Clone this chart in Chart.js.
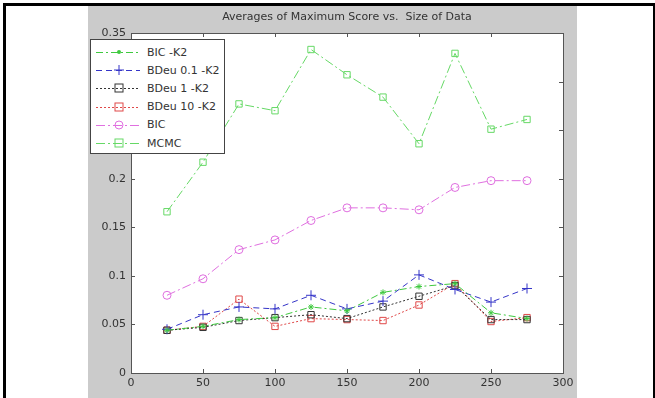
<!DOCTYPE html>
<html>
<head>
<meta charset="utf-8">
<script src="https://cdn.jsdelivr.net/npm/chart.js@4"></script>
<style>
  body { margin: 0; background: #fff; }
  #wrap { position: relative; width: 655px; height: 398px; overflow: hidden; }
  #frame { position: absolute; left: 3px; top: 3px; width: 647px; height: 400px;
           border-top: 3px solid #000; border-left: 3px solid #000; border-right: 3px solid #000; }
  #gray { position: absolute; left: 88px; top: 6px; width: 489px; height: 392px; background: #cbcbcb; }
  #myChart { position: absolute; left: 0; top: 0; }
  #legend { position: absolute; left: 90px; top: 39px; width: 135px; height: 115px;
            background: #fff; border: 1px solid #444; box-sizing: border-box;
            font-family: "DejaVu Sans", sans-serif; font-size: 11px; color: #333; padding-top: 3px; }
  .row { height: 18.2px; display: flex; align-items: center; }
  .row svg { margin-left: 3px; margin-right: 5px; }
</style>
</head>
<body>
<div id="wrap">
  <div id="frame"></div>
  <div id="gray"></div>
  <canvas id="myChart" width="655" height="398"></canvas>
  <div id="legend"></div>
</div>
<script>
// data size (x) and average maximum score per method
let xValues = [25, 50, 75, 100, 125, 150, 175, 200, 225, 250, 275]
let bicK2   = [0.044, 0.048, 0.055, 0.057, 0.068, 0.064, 0.083, 0.089, 0.092, 0.062, 0.056]
let bdeu01  = [0.045, 0.060, 0.068, 0.066, 0.080, 0.066, 0.074, 0.101, 0.086, 0.073, 0.087]
let bdeu1   = [0.044, 0.047, 0.054, 0.057, 0.060, 0.056, 0.068, 0.079, 0.090, 0.055, 0.055]
let bdeu10  = [0.044, 0.048, 0.076, 0.048, 0.056, 0.055, 0.054, 0.070, 0.092, 0.053, 0.057]
let bic     = [0.080, 0.097, 0.127, 0.137, 0.157, 0.170, 0.170, 0.168, 0.191, 0.198, 0.198]
let mcmc    = [0.166, 0.217, 0.277, 0.270, 0.333, 0.307, 0.284, 0.236, 0.329, 0.251, 0.261]

let seriesNames = ['BIC -K2', 'BDeu 0.1 -K2', 'BDeu 1 -K2', 'BDeu 10 -K2', 'BIC', 'MCMC']
let xTicks = [0, 50, 100, 150, 200, 250, 300]
let yTicks = ['0', '0.05', '0.1', '0.15', '0.2', '0.25', '0.3', '0.35']
let chartTitle = 'Averages of Maximum Score vs.  Size of Data'

let styles = [
  {color: '#3fc93f', dash: [7, 3, 2, 3], marker: 'star', r: 3},
  {color: '#3535c8', dash: [6, 4], marker: 'cross', r: 5},
  {color: '#333333', dash: [2, 2], marker: 'rect', r: 4.5},
  {color: '#e04848', dash: [2, 2], marker: 'rect', r: 4.5},
  {color: '#e070e0', dash: [9, 3, 2, 3], marker: 'circle', r: 4},
  {color: '#66d966', dash: [9, 3, 2, 3], marker: 'rect', r: 4.5}
]
let allSeries = [bicK2, bdeu01, bdeu1, bdeu10, bic, mcmc]

let datasets = allSeries.map(function(arr, i){
  let s = styles[i]
  return {
    label: seriesNames[i],
    data: xValues.map(function(x, j){ return {x: x, y: arr[j]} }),
    borderColor: s.color,
    backgroundColor: s.marker == 'star' ? s.color : 'rgba(0,0,0,0)',
    borderWidth: 1,
    borderDash: s.dash,
    pointStyle: s.marker,
    pointRadius: s.r,
    pointBorderWidth: 1,
    pointBorderColor: s.color,
    pointBackgroundColor: s.marker == 'star' ? s.color : 'rgba(0,0,0,0)',
    tension: 0
  }
})

// white plot box, dark border, matlab style inside ticks
let boxPlugin = {
  id: 'box',
  beforeDraw: function(chart){
    let a = chart.chartArea, ctx = chart.ctx
    ctx.save()
    ctx.fillStyle = '#fff'
    ctx.fillRect(a.left, a.top, a.right - a.left, a.bottom - a.top)
    ctx.restore()
  },
  afterDraw: function(chart){
    let a = chart.chartArea, ctx = chart.ctx
    let xs = chart.scales.x, ys = chart.scales.y
    ctx.save()
    ctx.strokeStyle = '#555'
    ctx.lineWidth = 1
    ctx.strokeRect(a.left + 0.5, a.top + 0.5, a.right - a.left, a.bottom - a.top)
    ctx.beginPath()
    xs.ticks.forEach(function(t){
      let px = Math.round(xs.getPixelForValue(t.value)) + 0.5
      ctx.moveTo(px, a.bottom); ctx.lineTo(px, a.bottom - 4)
      ctx.moveTo(px, a.top); ctx.lineTo(px, a.top + 4)
    })
    ys.ticks.forEach(function(t){
      let py = Math.round(ys.getPixelForValue(t.value)) + 0.5
      ctx.moveTo(a.left, py); ctx.lineTo(a.left + 4, py)
      ctx.moveTo(a.right, py); ctx.lineTo(a.right - 4, py)
    })
    ctx.stroke()
    ctx.restore()
  }
}

Chart.defaults.font.family = '"DejaVu Sans", sans-serif'
Chart.defaults.color = '#333'

let cur_chart = new Chart(document.getElementById('myChart'), {
  type: 'line',
  data: {datasets: datasets},
  plugins: [boxPlugin],
  options: {
    responsive: false,
    animation: false,
    devicePixelRatio: 1,
    layout: {padding: {left: 0, right: 92, top: 0, bottom: 0}},
    plugins: {
      legend: {display: false},
      tooltip: {enabled: false},
      title: {
        display: true,
        text: chartTitle,
        fullSize: false,
        font: {size: 11, weight: 'normal'},
        color: '#333',
        padding: {top: 11, bottom: 8.8}
      }
    },
    scales: {
      x: {
        type: 'linear',
        min: 0, max: 300,
        afterBuildTicks: function(s){ s.ticks = xTicks.map(function(v){ return {value: v} }) },
        ticks: {font: {size: 11}, padding: 4, maxRotation: 0, callback: function(v){ return String(v) }},
        grid: {display: false, drawTicks: false},
        border: {display: false},
        afterFit: function(s){ s.height = 25 }
      },
      y: {
        min: 0, max: 0.35,
        afterBuildTicks: function(s){ s.ticks = yTicks.map(function(v){ return {value: parseFloat(v)} }) },
        ticks: {font: {size: 11}, padding: 5, callback: function(v, i){ return yTicks[i] }},
        grid: {display: false, drawTicks: false},
        border: {display: false},
        afterFit: function(s){ s.width = 131 }
      }
    }
  }
})

// html legend drawn from the same series
let legend = document.getElementById('legend')
seriesNames.forEach(function(name, i){
  let s = styles[i]
  let row = document.createElement('div')
  row.className = 'row'
  let m = ''
  if (s.marker == 'rect') m = '<rect x="21" y="5" width="8" height="8" fill="none" stroke="' + s.color + '"/>'
  else if (s.marker == 'circle') m = '<circle cx="25" cy="9" r="4" fill="none" stroke="' + s.color + '"/>'
  else if (s.marker == 'cross') m = '<path d="M20 9H30M25 4V14" stroke="' + s.color + '"/>'
  else m = '<circle cx="25" cy="9" r="2" fill="' + s.color + '"/>'
  row.innerHTML = '<svg width="48" height="18"><line x1="2" y1="9.5" x2="46" y2="9.5" stroke="' + s.color +
    '" stroke-dasharray="' + s.dash.join(' ') + '"/>' + m + '</svg><span>' + name + '</span>'
  legend.appendChild(row)
})
</script>
</body>
</html>
